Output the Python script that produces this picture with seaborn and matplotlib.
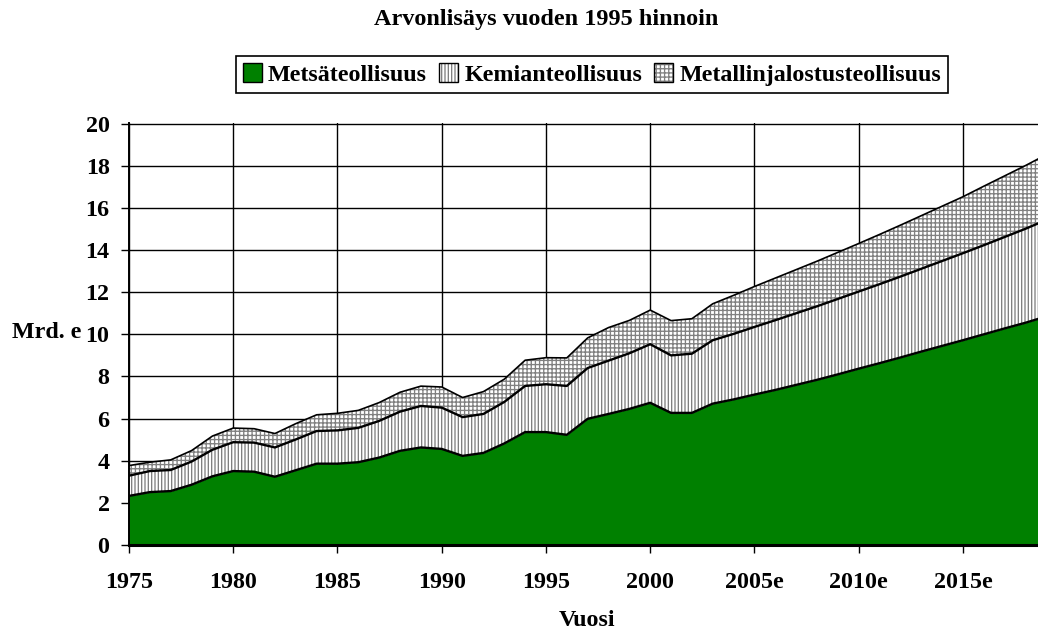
import numpy as np
import pandas as pd
import matplotlib.pyplot as plt
import seaborn as sns
from matplotlib.patches import Patch

years = list(range(1975, 2020))

# Arvonlisäys, Mrd. e (vuoden 1995 hinnoin)
metsa = [2.33, 2.51, 2.56, 2.86, 3.26, 3.51, 3.48, 3.24, 3.55, 3.86,
         3.86, 3.93, 4.15, 4.47, 4.63, 4.56, 4.23, 4.37, 4.82, 5.36,
         5.36, 5.23, 5.99, 6.22, 6.46, 6.75, 6.27, 6.27, 6.71, 6.91,
         7.14, 7.36, 7.60, 7.84, 8.10, 8.37, 8.63, 8.90, 9.18, 9.45,
         9.72, 10.00, 10.28, 10.55, 10.85]
kemia = [0.96, 1.00, 1.00, 1.10, 1.26, 1.37, 1.38, 1.39, 1.46, 1.55,
         1.58, 1.63, 1.74, 1.86, 1.97, 1.96, 1.84, 1.85, 1.97, 2.19,
         2.27, 2.32, 2.41, 2.53, 2.64, 2.78, 2.73, 2.81, 3.01, 3.11,
         3.21, 3.31, 3.40, 3.49, 3.58, 3.66, 3.75, 3.84, 3.93, 4.03,
         4.13, 4.23, 4.34, 4.46, 4.58]
metalli = [0.48, 0.42, 0.48, 0.52, 0.65, 0.67, 0.66, 0.66, 0.75, 0.77,
           0.81, 0.83, 0.87, 0.92, 0.94, 0.98, 0.93, 1.06, 1.08, 1.22,
           1.26, 1.33, 1.43, 1.57, 1.56, 1.62, 1.65, 1.66, 1.73, 1.83,
           1.92, 2.00, 2.07, 2.14, 2.21, 2.28, 2.36, 2.44, 2.52, 2.60,
           2.68, 2.80, 2.90, 3.00, 3.10]

labels = ['Metsäteollisuus', 'Kemianteollisuus', 'Metallinjalostusteollisuus']
tick_years = [1975, 1980, 1985, 1990, 1995, 2000, 2005, 2010, 2015]
tick_labels = ['1975', '1980', '1985', '1990', '1995', '2000', '2005e', '2010e', '2015e']

df = pd.DataFrame({'vuosi': years, 'metsa': metsa, 'kemia': kemia, 'metalli': metalli})
df['s1'] = df['metsa']
df['s2'] = df['s1'] + df['kemia']
df['s3'] = df['s2'] + df['metalli']

sns.set_theme(style='white')
plt.rcParams['font.family'] = ['Liberation Serif', 'DejaVu Serif']
plt.rcParams['font.weight'] = 'bold'
plt.rcParams['text.color'] = 'black'
plt.rcParams['hatch.linewidth'] = 0.95

fs = 17.3

fig = plt.figure(figsize=(10.38, 6.35), dpi=100)
ax = fig.add_axes([129 / 1038, 90 / 635, 909 / 1038, 422 / 635])

hatch_gray = '#808080'
ax.fill_between(df['vuosi'], 0, df['s1'], facecolor='#008000', linewidth=0, zorder=1)
ax.fill_between(df['vuosi'], df['s1'], df['s2'], facecolor='white', edgecolor=hatch_gray,
                hatch='|||||', linewidth=0, zorder=1)
ax.fill_between(df['vuosi'], df['s2'], df['s3'], facecolor='white', edgecolor=hatch_gray,
                hatch='++++', linewidth=0, zorder=1)

for col, lw in [('s1', 1.7), ('s2', 1.7), ('s3', 1.2)]:
    sns.lineplot(data=df, x='vuosi', y=col, color='black', linewidth=lw,
                 estimator=None, ax=ax, zorder=3)

ax.set_xlim(1975, 2018.6)
ax.set_ylim(0, 20.03)
ax.set_xticks(tick_years)
ax.set_xticklabels(tick_labels)
ax.set_yticks(range(0, 21, 2))
ax.set_xlabel('')
ax.set_ylabel('')

ax.set_axisbelow(True)
ax.grid(True, color='black', linewidth=1.0)
for side in ['top', 'right']:
    ax.spines[side].set_visible(False)
ax.spines['bottom'].set_linewidth(2.2)
ax.spines['bottom'].set_color('black')
ax.spines['bottom'].set_zorder(4)
ax.spines['left'].set_linewidth(1.4)
ax.spines['left'].set_color('black')

ax.tick_params(axis='both', direction='out', length=6, width=1, color='black',
               labelsize=fs, labelcolor='black', bottom=True, left=True)
ax.tick_params(axis='x', pad=13.5)
ax.tick_params(axis='y', pad=8)

fig.text(546 / 1038, 1 - 20 / 635, 'Arvonlisäys vuoden 1995 hinnoin',
         ha='center', va='center', fontsize=17.5, fontweight='bold', color='black')
fig.text(12 / 1038, 1 - 333 / 635, 'Mrd. e', ha='left', va='center',
         fontsize=fs, fontweight='bold', color='black')
fig.text(587 / 1038, 1 - 620 / 635, 'Vuosi', ha='center', va='center',
         fontsize=fs, fontweight='bold', color='black')

handles = [
    Patch(facecolor='#008000', edgecolor='black', linewidth=1),
    (Patch(facecolor='white', edgecolor=hatch_gray, hatch='|||||', linewidth=0),
     Patch(facecolor='none', edgecolor='black', linewidth=1)),
    (Patch(facecolor='white', edgecolor=hatch_gray, hatch='++++', linewidth=0),
     Patch(facecolor='none', edgecolor='black', linewidth=1)),
]
leg = fig.legend(handles, labels, loc='center', bbox_to_anchor=(592 / 1038, 1 - 74.5 / 635),
                 ncol=3, frameon=True, fancybox=False, edgecolor='black', framealpha=1,
                 handlelength=0.8, handleheight=0.8, handletextpad=0.25,
                 columnspacing=0.5, borderpad=0.3, fontsize=fs)
leg.get_frame().set_linewidth(1.2)
for t in leg.get_texts():
    t.set_color('black')

fig.savefig('out.png', dpi=100)
